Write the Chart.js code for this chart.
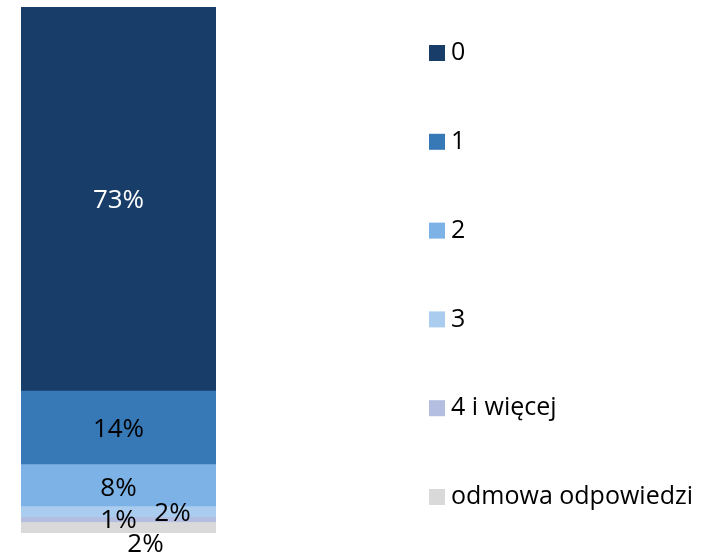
<!DOCTYPE html>
<html>
<head>
<meta charset="utf-8">
<title>Liczba odpowiedzi</title>
<script src="https://cdn.jsdelivr.net/npm/chart.js@4.4.1/dist/chart.umd.min.js"></script>
<style>
  html, body { margin: 0; padding: 0; background: #fff; }
  #wrap { width: 713px; height: 555px; }
</style>
</head>
<body>
<div id="wrap"><canvas id="shareChart" width="713" height="555"></canvas></div>
<script>
// answer categories, top of the bar first
const categories = ['0', '1', '2', '3', '4 i więcej', 'odmowa odpowiedzi'];
const shares = [73, 14, 8, 2, 1, 2];
const seriesColors = ['#173d68', '#3778b6', '#7db2e6', '#aacdef', '#b4bee0', '#d9d9d9'];
const labelColors = ['#ffffff', '#000000', '#000000', '#000000', '#000000', '#000000'];

// small nudges so the thin segments' labels don't overlap
const labelOffsets = [[0, 2], [0, 2], [0, 3], [54, 2], [0, 1], [27, 17]];

const FONT = '"Open Sans", "DejaVu Sans", sans-serif';

// Chart.js stacks the first dataset at the bottom, so build them in reverse
const datasets = categories.map((name, i) => ({
  label: name,
  data: [shares[i]],
  backgroundColor: seriesColors[i],
  borderWidth: 0,
  catIndex: i
})).reverse();

const valueLabels = {
  id: 'valueLabels',
  afterDatasetsDraw(chart) {
    const ctx = chart.ctx;
    ctx.save();
    ctx.font = '26px ' + FONT;
    ctx.textAlign = 'center';
    ctx.textBaseline = 'middle';
    chart.data.datasets.forEach((ds, d) => {
      const meta = chart.getDatasetMeta(d);
      const bar = meta.data[0];
      if (!bar) return;
      const i = ds.catIndex;
      const off = labelOffsets[i];
      const y = (bar.y + bar.base) / 2;
      ctx.fillStyle = labelColors[i];
      ctx.fillText(shares[i] + '%', bar.x + off[0], y + off[1]);
    });
    ctx.restore();
  }
};

const sideLegend = {
  id: 'sideLegend',
  afterDraw(chart) {
    const ctx = chart.ctx;
    const left = 429, top = 53, step = 88.8, box = 16;
    ctx.save();
    ctx.font = '25px ' + FONT;
    ctx.textAlign = 'left';
    ctx.textBaseline = 'middle';
    categories.forEach((name, i) => {
      const cy = top + i * step;
      ctx.fillStyle = seriesColors[i];
      ctx.fillRect(left, cy - box / 2, box, box);
      ctx.fillStyle = '#000000';
      ctx.fillText(name, left + box + 6, cy);
    });
    ctx.restore();
  }
};

new Chart(document.getElementById('shareChart').getContext('2d'), {
  type: 'bar',
  data: {
    labels: [''],
    datasets: datasets
  },
  options: {
    responsive: false,
    animation: false,
    layout: {
      padding: { top: 7, bottom: 22, left: 21, right: 497 }
    },
    datasets: {
      bar: { barPercentage: 1, categoryPercentage: 1 }
    },
    plugins: {
      legend: { display: false },
      tooltip: { enabled: false }
    },
    scales: {
      x: { stacked: true, display: false },
      y: { stacked: true, display: false, min: 0, max: 100 }
    }
  },
  plugins: [valueLabels, sideLegend]
});
</script>
</body>
</html>
